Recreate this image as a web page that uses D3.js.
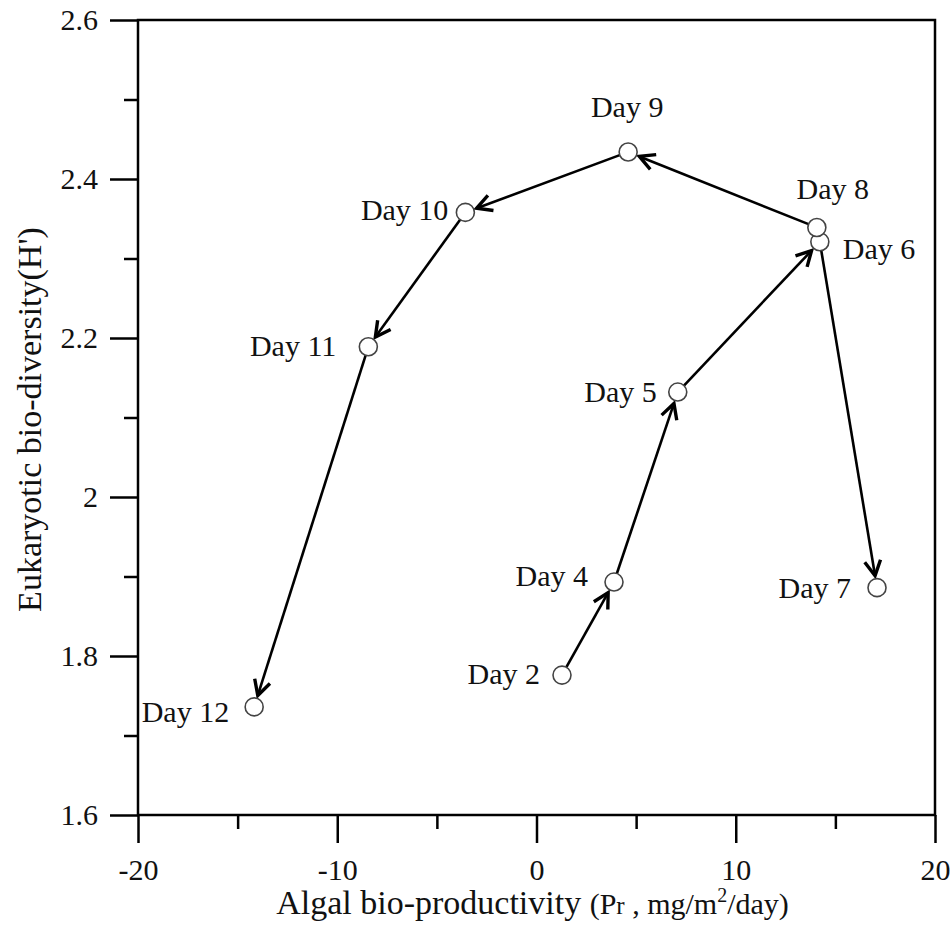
<!DOCTYPE html>
<html>
<head>
<meta charset="utf-8">
<script src="https://cdn.jsdelivr.net/npm/d3@7"></script>
<style>
  html, body { margin: 0; padding: 0; background: #fff; }
  text { font-family: "Liberation Serif", "DejaVu Serif", serif; fill: #111; }
</style>
</head>
<body>
<svg id="chart" width="951" height="925"></svg>
<script>
// ---- data ----
const days = ["Day 2", "Day 4", "Day 5", "Day 6", "Day 7", "Day 8", "Day 9", "Day 10", "Day 11", "Day 12"];
const productivity = [1.28, 3.89, 7.09, 14.22, 17.09, 14.07, 4.60, -3.57, -8.44, -14.17];
const diversity = [1.776, 1.893, 2.132, 2.321, 1.886, 2.339, 2.434, 2.358, 2.189, 1.736];
// sequences connected by arrows (indices into arrays above)
const paths = [[0, 1, 2, 3, 4], [5, 6, 7, 8, 9]];
const xTicks = [-20, -10, 0, 10, 20];
const xTickLabels = ["-20", "-10", "0", "10", "20"];
const xMinor = [-15, -5, 5, 15];
const yTicks = [1.6, 1.8, 2, 2.2, 2.4, 2.6];
const yTickLabels = ["1.6", "1.8", "2", "2.2", "2.4", "2.6"];
const yMinor = [1.7, 1.9, 2.1, 2.3, 2.5];

// label placement (style only): anchor and pixel offsets from the point
const labelPlace = [
  {a: "end", dx: -22, dy: 9},   // Day 2
  {a: "end", dx: -26, dy: 4},   // Day 4
  {a: "end", dx: -21, dy: 10},  // Day 5
  {a: "start", dx: 23, dy: 17}, // Day 6
  {a: "end", dx: -26, dy: 10},  // Day 7
  {a: "middle", dx: 16, dy: -28}, // Day 8
  {a: "middle", dx: -1, dy: -35}, // Day 9
  {a: "end", dx: -17, dy: 8},   // Day 10
  {a: "end", dx: -32, dy: 9},   // Day 11
  {a: "end", dx: -25, dy: 15}   // Day 12
];

const svg = d3.select("#chart");
const L = 138, R = 935, T = 20, B = 815;
const x = d3.scaleLinear().domain([-20, 20]).range([L, R]);
const y = d3.scaleLinear().domain([1.6, 2.6]).range([B, T]);
const FS = 30;

// frame
svg.append("rect").attr("x", L).attr("y", T).attr("width", R - L).attr("height", B - T)
  .attr("fill", "none").attr("stroke", "#000").attr("stroke-width", 2.5);

// axes
const xAxis = svg.append("g").attr("transform", `translate(0,${B})`)
  .call(d3.axisBottom(x).tickValues(xTicks).tickSize(28).tickPadding(16).tickFormat((d, i) => xTickLabels[i]));
const xAxisMinor = svg.append("g").attr("transform", `translate(0,${B})`)
  .call(d3.axisBottom(x).tickValues(xMinor).tickSize(14).tickFormat(""));
const yAxis = svg.append("g").attr("transform", `translate(${L},0)`)
  .call(d3.axisLeft(y).tickValues(yTicks).tickSize(28).tickPadding(12).tickFormat((d, i) => yTickLabels[i]));
const yAxisMinor = svg.append("g").attr("transform", `translate(${L},0)`)
  .call(d3.axisLeft(y).tickValues(yMinor).tickSize(14).tickFormat(""));
[xAxis, xAxisMinor, yAxis, yAxisMinor].forEach(g => {
  g.select(".domain").remove();
  g.selectAll(".tick line").attr("stroke", "#000").attr("stroke-width", 2.5);
  g.selectAll(".tick text").attr("font-size", FS).attr("font-family", "Liberation Serif").attr("fill", "#111");
});

// arrow marker (open V)
svg.append("defs").append("marker")
  .attr("id", "arr").attr("viewBox", "0 0 22 22").attr("refX", 19).attr("refY", 11)
  .attr("markerWidth", 22).attr("markerHeight", 22).attr("markerUnits", "userSpaceOnUse")
  .attr("orient", "auto")
  .append("path").attr("d", "M4,3 L19,11 L4,19").attr("fill", "none")
  .attr("stroke", "#000").attr("stroke-width", 3.4).attr("stroke-linejoin", "miter");

const r = 9;
const pts = days.map((d, i) => ({ name: d, px: x(productivity[i]), py: y(diversity[i]) }));

// arrows
const segs = [];
paths.forEach(p => { for (let k = 0; k < p.length - 1; k++) segs.push([p[k], p[k + 1]]); });
svg.append("g").selectAll("line").data(segs).join("line")
  .each(function ([a, b]) {
    const A = pts[a], Bp = pts[b];
    const dx = Bp.px - A.px, dy = Bp.py - A.py, len = Math.hypot(dx, dy);
    const ux = dx / len, uy = dy / len;
    d3.select(this)
      .attr("x1", A.px + ux * r).attr("y1", A.py + uy * r)
      .attr("x2", Bp.px - ux * (r + 3)).attr("y2", Bp.py - uy * (r + 3));
  })
  .attr("stroke", "#000").attr("stroke-width", 2.6).attr("marker-end", "url(#arr)");

// points
svg.append("g").selectAll("circle").data(pts).join("circle")
  .attr("cx", d => d.px).attr("cy", d => d.py).attr("r", r)
  .attr("fill", "#fff").attr("stroke", "#444").attr("stroke-width", 1.6);

// labels
svg.append("g").selectAll("text").data(pts).join("text")
  .attr("x", (d, i) => d.px + labelPlace[i].dx)
  .attr("y", (d, i) => d.py + labelPlace[i].dy)
  .attr("text-anchor", (d, i) => labelPlace[i].a)
  .attr("font-size", FS)
  .text(d => d.name);

// x title
const xt = svg.append("text").attr("x", (L + R) / 2 - 4).attr("y", 914)
  .attr("text-anchor", "middle").attr("font-size", 34);
xt.append("tspan").text("Algal bio-productivity ");
xt.append("tspan").attr("font-size", 30).text("(P");
xt.append("tspan").attr("font-size", 25).text("r");
xt.append("tspan").attr("font-size", 30).text(" , mg/m");
xt.append("tspan").attr("font-size", 20).attr("dy", -12).text("2");
xt.append("tspan").attr("font-size", 30).attr("dy", 12).text("/day)");

// y title
svg.append("text").attr("transform", `translate(41,${(T + B) / 2 + 2}) rotate(-90)`)
  .attr("text-anchor", "middle").attr("font-size", 34)
  .text("Eukaryotic bio-diversity(H')");
</script>
</body>
</html>
